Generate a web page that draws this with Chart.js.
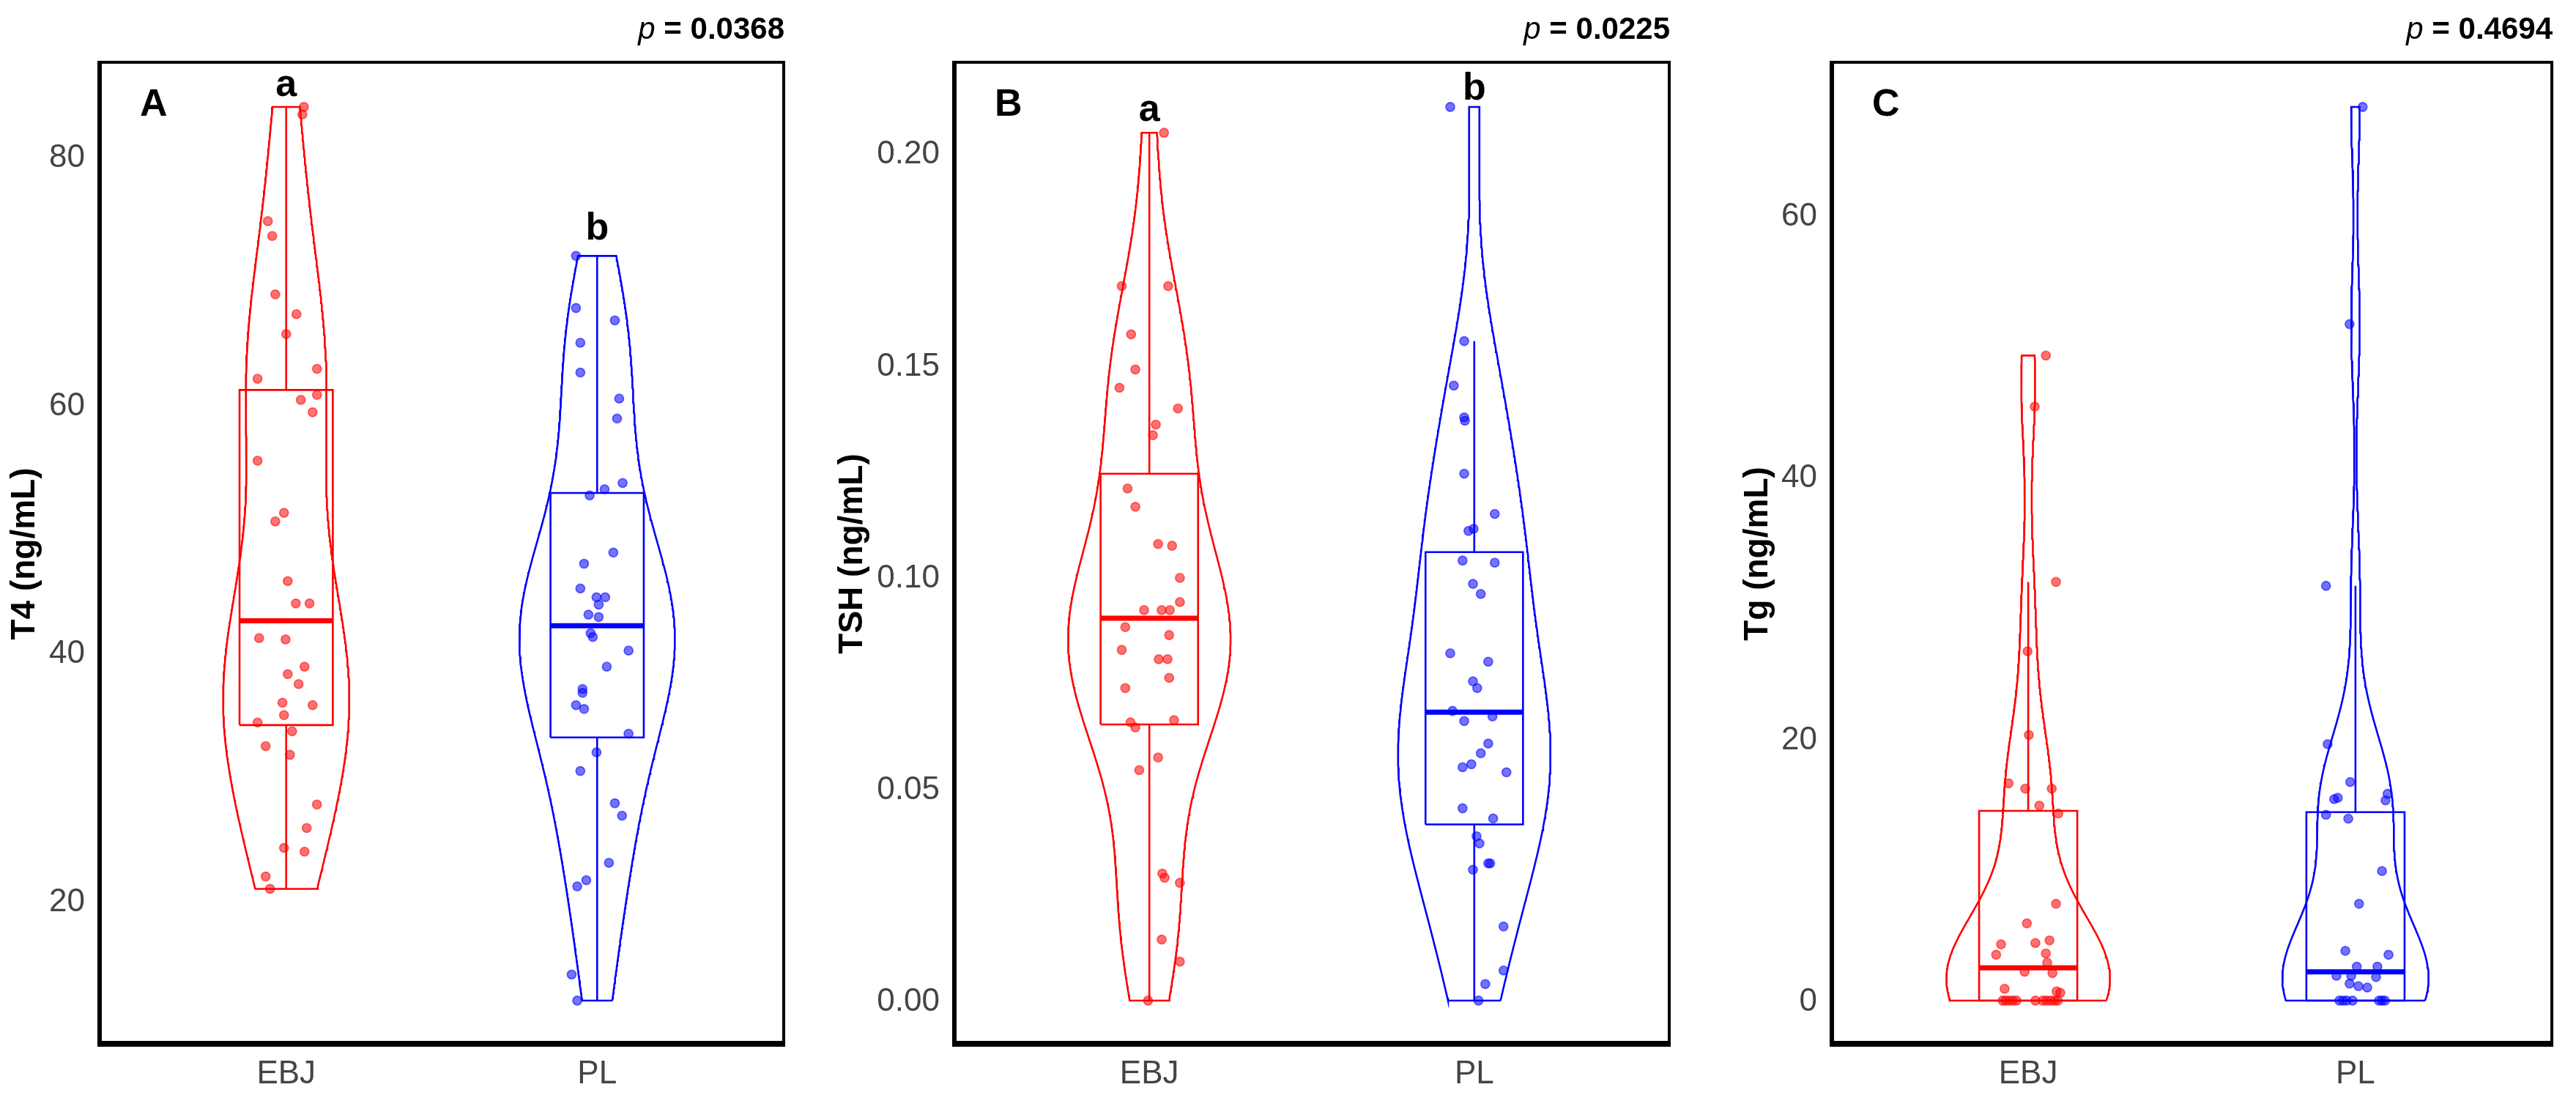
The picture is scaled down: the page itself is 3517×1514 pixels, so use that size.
<!DOCTYPE html>
<html><head><meta charset="utf-8">
<script src="https://cdn.jsdelivr.net/npm/chart.js@4.4.1/dist/chart.umd.min.js"></script>
<style>
html,body{margin:0;padding:0;background:#fff;}
body{width:3517px;height:1514px;position:relative;overflow:hidden;}
canvas{position:absolute;top:0;}
</style></head><body>
<canvas id="cA" width="1100" height="1514" style="left:0px"></canvas>
<canvas id="cB" width="1190" height="1514" style="left:1110px"></canvas>
<canvas id="cC" width="1207" height="1514" style="left:2310px"></canvas>
<script>
// ---------------- DATA ----------------
const categories = ['EBJ', 'PL'];

// Panel A: T4 (ng/mL)
const t4EBJ = [84.1, 83.5, 74.9, 73.7, 69.0, 67.4, 65.8, 63.0, 62.2, 60.9, 60.5, 59.5, 55.6, 51.4, 50.7, 45.9, 44.1, 44.1, 41.3, 41.2, 39.0, 38.4, 37.6, 36.1, 35.9, 35.1, 34.5, 33.8, 32.6, 31.9, 27.9, 26.0, 24.4, 24.1, 22.1, 21.1];
const t4EBJJitter = [0.057, 0.052, -0.059, -0.045, -0.035, 0.033, 0.000, 0.099, -0.092, 0.099, 0.047, 0.085, -0.092, -0.007, -0.035, 0.005, 0.031, 0.075, -0.087, -0.002, 0.059, 0.005, 0.040, -0.012, 0.085, -0.007, -0.092, 0.019, -0.066, 0.012, 0.099, 0.066, -0.007, 0.059, -0.066, -0.052];
const t4PL = [72.1, 67.9, 66.9, 65.1, 62.7, 60.6, 59.0, 53.8, 53.3, 52.8, 48.2, 47.3, 45.3, 44.6, 44.6, 44.0, 43.2, 43.0, 41.7, 41.4, 40.3, 39.0, 37.2, 36.9, 35.9, 35.6, 33.6, 32.1, 30.6, 28.0, 27.0, 23.2, 21.8, 21.3, 14.2, 12.1];
const t4PLJitter = [-0.068, -0.068, 0.057, -0.054, -0.054, 0.071, 0.064, 0.082, 0.024, -0.024, 0.052, -0.042, -0.054, -0.002, 0.026, 0.005, -0.028, 0.005, -0.021, -0.014, 0.101, 0.031, -0.047, -0.047, -0.068, -0.042, 0.101, -0.002, -0.054, 0.057, 0.080, 0.038, -0.035, -0.064, -0.082, -0.064];
// box stats: [lower whisker, Q1, median, Q3, upper whisker]
const t4BoxEBJ = [21.1, 34.3, 42.7, 61.3, 84.1];
const t4BoxPL = [12.1, 33.3, 42.3, 53.0, 72.1];
const t4Ticks = [20, 40, 60, 80];
const t4Letters = ['a', 'b'];
const t4LetterY = [85.0, 73.4];

// Panel B: TSH (ng/mL)
const tshEBJ = [0.2052, 0.1690, 0.1690, 0.1576, 0.1493, 0.1450, 0.1401, 0.1363, 0.1338, 0.1212, 0.1169, 0.1081, 0.1077, 0.1001, 0.0944, 0.0925, 0.0925, 0.0925, 0.0885, 0.0866, 0.0831, 0.0809, 0.0809, 0.0765, 0.0741, 0.0660, 0.0648, 0.0665, 0.0577, 0.0547, 0.0303, 0.0293, 0.0281, 0.0147, 0.0095, 0.0003];
const tshEBJJitter = [0.045, -0.085, 0.058, -0.056, -0.043, -0.092, 0.088, 0.020, 0.011, -0.067, -0.043, 0.027, 0.070, 0.094, 0.094, -0.016, 0.038, 0.063, -0.074, 0.061, -0.085, 0.029, 0.056, 0.061, -0.074, -0.058, -0.043, 0.076, 0.027, -0.031, 0.040, 0.047, 0.094, 0.038, 0.094, -0.004];
const tshPL = [0.2113, 0.1560, 0.1455, 0.1380, 0.1372, 0.1247, 0.1152, 0.1112, 0.1117, 0.1042, 0.1037, 0.0987, 0.0963, 0.0823, 0.0803, 0.0757, 0.0741, 0.0687, 0.0663, 0.0674, 0.0610, 0.0587, 0.0561, 0.0554, 0.0542, 0.0457, 0.0433, 0.0391, 0.0374, 0.0327, 0.0327, 0.0312, 0.0178, 0.0074, 0.0042, 0.0003];
const tshPLJitter = [-0.074, -0.031, -0.063, -0.031, -0.029, -0.031, 0.063, -0.018, -0.002, -0.036, 0.063, -0.004, 0.020, -0.074, 0.043, -0.004, 0.009, -0.067, -0.031, 0.056, 0.043, 0.020, -0.009, -0.036, 0.099, -0.036, 0.058, 0.007, 0.016, 0.043, 0.049, -0.004, 0.090, 0.090, 0.034, 0.013];
const tshBoxEBJ = [0.0003, 0.0655, 0.0906, 0.1247, 0.2052];
const tshBoxPL = [0.0003, 0.0419, 0.0684, 0.1062, 0.1560];
const tshTicks = [0.00, 0.05, 0.10, 0.15, 0.20];
const tshLetters = ['a', 'b'];
const tshLetterY = [0.208, 0.213];

// Panel C: Tg (ng/mL)
const tgEBJ = [49.4, 45.5, 32.1, 26.8, 20.4, 16.7, 16.3, 16.3, 15.0, 14.4, 7.5, 6.0, 4.4, 4.5, 4.7, 3.6, 3.7, 3.0, 2.3, 2.2, 1.0, 0.8, 0.7, 0.1, 0.1, 0.1, 0.1, 0.1, 0.1, 0.1, 0.1, 0.1, 0.1, 0.1];
const tgEBJJitter = [0.054, 0.020, 0.085, -0.002, 0.002, -0.060, -0.009, 0.072, 0.034, 0.092, 0.085, -0.004, -0.083, 0.022, 0.065, -0.098, 0.054, 0.058, -0.011, 0.074, -0.072, 0.087, 0.098, -0.078, -0.058, -0.036, 0.022, 0.045, 0.069, 0.090, -0.069, -0.047, 0.056, 0.081];
const tgPL = [68.4, 51.8, 31.8, 19.7, 16.8, 15.9, 15.5, 15.6, 15.4, 14.3, 14.0, 10.0, 7.5, 3.9, 3.6, 2.7, 2.7, 2.0, 1.9, 2.0, 1.4, 1.2, 1.1, 0.1, 0.1, 0.1, 0.1, 0.1, 0.1, 0.1];
const tgPLJitter = [0.022, -0.018, -0.090, -0.085, -0.016, 0.098, -0.065, -0.054, 0.092, -0.090, -0.022, 0.081, 0.011, -0.031, 0.101, 0.004, 0.067, -0.058, 0.063, -0.013, -0.018, 0.009, 0.036, -0.049, -0.027, -0.009, 0.072, 0.090, -0.038, 0.081];
const tgBoxEBJ = [0.1, 0.1, 2.6, 14.6, 32.1];
const tgBoxPL = [0.1, 0.1, 2.3, 14.5, 31.8];
const tgTicks = [0, 20, 40, 60];
const tgLetters = [];
const tgLetterY = [];

const pValues = ['0.0368', '0.0225', '0.4694'];
const panelLabels = ['A', 'B', 'C'];
const yTitles = ['T4 (ng/mL)', 'TSH (ng/mL)', 'Tg (ng/mL)'];

// ---------------- STYLE ----------------
const RED = '#FF0000', BLUE = '#0000FF';
const RED_PT = 'rgba(255,0,0,0.55)', BLUE_PT = 'rgba(0,0,255,0.55)';
const FONT = "'Liberation Sans', Arial, sans-serif";
const TICK_COLOR = '#444444';
const VIOLIN_HALF = 0.25, BOX_HALF = 0.15;

// ---------------- HELPERS ----------------
function quantile(s, p) { const h = (s.length - 1) * p; const lo = Math.floor(h); const hi = Math.min(lo + 1, s.length - 1); return s[lo] + (h - lo) * (s[hi] - s[lo]); }
function bwNrd0(v) {
  const n = v.length; const mean = v.reduce((a, b) => a + b, 0) / n;
  const sd = Math.sqrt(v.reduce((a, b) => a + (b - mean) * (b - mean), 0) / (n - 1));
  const s = [...v].sort((a, b) => a - b);
  let lo = Math.min(sd, (quantile(s, 0.75) - quantile(s, 0.25)) / 1.34);
  if (!(lo > 0)) lo = sd || 1;
  return 0.9 * lo * Math.pow(n, -0.2);
}
function kde(v) {
  const bw = bwNrd0(v); const mn = Math.min(...v), mx = Math.max(...v); const out = []; const N = 300;
  for (let i = 0; i < N; i++) {
    const y = mn + (mx - mn) * i / (N - 1); let d = 0;
    for (const x of v) { const z = (y - x) / bw; d += Math.exp(-0.5 * z * z); }
    out.push({ y, d: d / (v.length * bw * Math.sqrt(2 * Math.PI)) });
  }
  return out;
}
function violinPath(c, dens, maxD) {
  const right = dens.map(p => ({ x: c + p.d / maxD * VIOLIN_HALF, y: p.y }));
  const left = dens.slice().reverse().map(p => ({ x: c - p.d / maxD * VIOLIN_HALF, y: p.y }));
  return [...right, ...left, right[0]];
}
function lineDs(data, color, width, order) {
  return { data, borderColor: color, backgroundColor: 'transparent', borderWidth: width, showLine: true, pointRadius: 0, pointHoverRadius: 0, fill: false, tension: 0, order, borderJoinStyle: 'miter', borderCapStyle: 'butt' };
}

function makePanel(p) {
  const all = p.groups.flatMap(g => g.values);
  const dmin = Math.min(...all), dmax = Math.max(...all); const pad = (dmax - dmin) * 0.05;
  const dens = p.groups.map(g => kde(g.values));
  const maxD = Math.max(...dens.flatMap(d => d.map(q => q.d)));
  const datasets = [];
  p.groups.forEach((g, i) => {
    const c = i + 1; const [lo, q1, med, q3, hi] = g.box;
    datasets.push(lineDs(violinPath(c, dens[i], maxD), g.color, 2.6, 5));
    datasets.push(lineDs([{ x: c - BOX_HALF, y: q1 }, { x: c + BOX_HALF, y: q1 }, { x: c + BOX_HALF, y: q3 }, { x: c - BOX_HALF, y: q3 }, { x: c - BOX_HALF, y: q1 }], g.color, 2.6, 4));
    datasets.push(lineDs([{ x: c, y: q3 }, { x: c, y: hi }], g.color, 2.6, 4));
    datasets.push(lineDs([{ x: c, y: q1 }, { x: c, y: lo }], g.color, 2.6, 4));
    datasets.push(lineDs([{ x: c - BOX_HALF, y: med }, { x: c + BOX_HALF, y: med }], g.color, 7, 3));
    datasets.push({ data: g.values.map((v, j) => ({ x: c + g.jitter[j], y: v })), showLine: false, pointRadius: 6, pointBorderWidth: 1.8, backgroundColor: g.pt, borderColor: g.pt, order: 1 });
  });

  const deco = {
    id: 'deco' + p.id,
    afterDraw(chart) {
      const ctx = chart.ctx, a = chart.chartArea, xs = chart.scales.x, ys = chart.scales.y;
      ctx.save();
      // frame
      ctx.strokeStyle = '#000'; ctx.lineWidth = 4;
      ctx.strokeRect(a.left, a.top, a.right - a.left, a.bottom - a.top);
      ctx.lineWidth = 8; ctx.beginPath(); ctx.moveTo(a.left - 3, a.bottom - 2); ctx.lineTo(a.right + 2, a.bottom - 2); ctx.stroke();
      ctx.lineWidth = 6; ctx.beginPath(); ctx.moveTo(a.left, a.top - 2); ctx.lineTo(a.left, a.bottom); ctx.stroke();
      // y title
      ctx.fillStyle = '#000'; ctx.font = 'bold 46px ' + FONT; ctx.textAlign = 'center'; ctx.textBaseline = 'middle';
      ctx.translate(p.titleX, (a.top + a.bottom) / 2); ctx.rotate(-Math.PI / 2); ctx.fillText(p.title, 0, 0);
      ctx.restore(); ctx.save();
      // p-value
      ctx.fillStyle = '#000'; ctx.textBaseline = 'alphabetic'; ctx.textAlign = 'right';
      ctx.font = 'bold 42px ' + FONT; const rest = ' = ' + p.pval; const w = ctx.measureText(rest).width;
      ctx.fillText(rest, a.right + 1, 53);
      ctx.font = 'italic 42px ' + FONT; ctx.fillText('p', a.right + 1 - w, 53);
      // panel label
      ctx.textAlign = 'left'; ctx.font = 'bold 52px ' + FONT; ctx.fillText(p.label, a.left + 55, 158);
      // significance letters
      ctx.textAlign = 'center'; ctx.font = 'bold 52px ' + FONT;
      p.letters.forEach((L, i) => ctx.fillText(L, xs.getPixelForValue(i + 1), ys.getPixelForValue(p.letterY[i])));
      ctx.restore();
    }
  };

  return new Chart(document.getElementById(p.id), {
    type: 'scatter',
    data: { datasets },
    options: {
      responsive: false, animation: false, devicePixelRatio: 1,
      plugins: { legend: { display: false }, tooltip: { enabled: false } },
      layout: { padding: { left: 0, top: 85, right: p.padRight, bottom: 0 } },
      scales: {
        x: {
          type: 'linear', min: 0.4, max: 2.6,
          grid: { display: false, drawTicks: false }, border: { display: false },
          afterBuildTicks: s => { s.ticks = categories.map((c, i) => ({ value: i + 1 })); },
          ticks: { callback: v => categories[Math.round(v) - 1] || '', font: { family: FONT, size: 44 }, color: TICK_COLOR, padding: 13, maxRotation: 0, autoSkip: false },
          afterFit: s => { s.height = 87; }
        },
        y: {
          type: 'linear', min: dmin - pad, max: dmax + pad,
          grid: { display: false, drawTicks: false }, border: { display: false },
          afterBuildTicks: s => { s.ticks = p.ticks.map(v => ({ value: v })); },
          ticks: { callback: v => p.fmt(v), font: { family: FONT, size: 44 }, color: TICK_COLOR, padding: 20, autoSkip: false },
          afterFit: s => { s.width = p.yAxisW; }
        }
      }
    },
    plugins: [deco]
  });
}

makePanel({ id: 'cA', yAxisW: 136, padRight: 30, titleX: 34, title: yTitles[0], pval: pValues[0], label: panelLabels[0],
  ticks: t4Ticks, fmt: v => String(v), letters: t4Letters, letterY: t4LetterY,
  groups: [{ values: t4EBJ, jitter: t4EBJJitter, box: t4BoxEBJ, color: RED, pt: RED_PT }, { values: t4PL, jitter: t4PLJitter, box: t4BoxPL, color: BLUE, pt: BLUE_PT }] });
makePanel({ id: 'cB', yAxisW: 193, padRight: 21, titleX: 54, title: yTitles[1], pval: pValues[1], label: panelLabels[1],
  ticks: tshTicks, fmt: v => v.toFixed(2), letters: tshLetters, letterY: tshLetterY,
  groups: [{ values: tshEBJ, jitter: tshEBJJitter, box: tshBoxEBJ, color: RED, pt: RED_PT }, { values: tshPL, jitter: tshPLJitter, box: tshBoxPL, color: BLUE, pt: BLUE_PT }] });
makePanel({ id: 'cC', yAxisW: 191, padRight: 33, titleX: 90, title: yTitles[2], pval: pValues[2], label: panelLabels[2],
  ticks: tgTicks, fmt: v => String(v), letters: tgLetters, letterY: tgLetterY,
  groups: [{ values: tgEBJ, jitter: tgEBJJitter, box: tgBoxEBJ, color: RED, pt: RED_PT }, { values: tgPL, jitter: tgPLJitter, box: tgBoxPL, color: BLUE, pt: BLUE_PT }] });
</script>
</body></html>
